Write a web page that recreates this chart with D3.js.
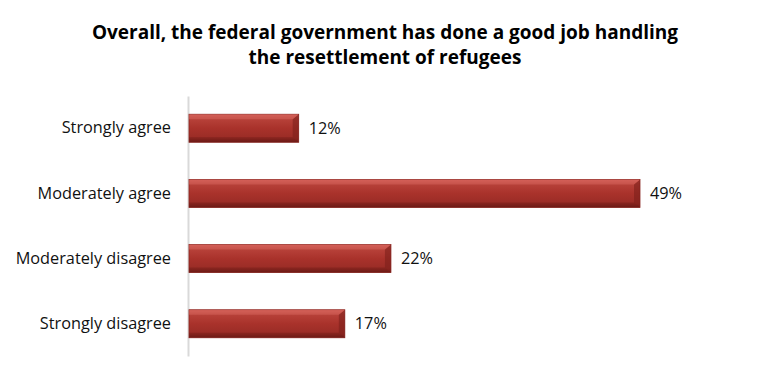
<!DOCTYPE html>
<html><head><meta charset="utf-8">
<script src="https://cdn.jsdelivr.net/npm/d3@7"></script>
<style>body{margin:0;background:#fff;} svg{display:block;}</style>
</head><body>
<script>
const categories = ["Strongly agree","Moderately agree","Moderately disagree","Strongly disagree"];
const values = [12, 49, 22, 17];
const valueLabels = ["12%","49%","22%","17%"];
const titleLines = ["Overall, the federal government has done a good job handling","the resettlement of refugees"];

const W = 768, H = 380;
const svg = d3.select("body").append("svg").attr("width", W).attr("height", H);
const font = "Open Sans, Lato, sans-serif";

const defs = svg.append("defs");
const g1 = defs.append("linearGradient").attr("id","barGrad").attr("x1",0).attr("y1",0).attr("x2",0).attr("y2",1);
g1.append("stop").attr("offset","0%").attr("stop-color","#cf5a52");
g1.append("stop").attr("offset","15%").attr("stop-color","#b8423a");
g1.append("stop").attr("offset","50%").attr("stop-color","#a9322b");
g1.append("stop").attr("offset","85%").attr("stop-color","#9a2c26");
g1.append("stop").attr("offset","100%").attr("stop-color","#6e1b17");

const x0 = 188, yTop = 96, yBot = 356;
const x = d3.scaleLinear().domain([0, 49]).range([x0, 640]);
const y = d3.scaleBand().domain(categories).range([yTop, yBot]).paddingInner(0.57).paddingOuter(0.28);

// title
svg.append("g").selectAll("text").data(titleLines).join("text")
  .attr("x", 385).attr("y", (d,i)=> 39 + i*25)
  .attr("text-anchor","middle").attr("font-family", font)
  .attr("font-weight","bold").attr("font-size", 19).attr("fill","#000")
  .text(d=>d);

// axis
const axis = d3.axisLeft(y).tickSize(0).tickPadding(17);
const ag = svg.append("g").attr("transform", `translate(${x0},0)`).call(axis);
ag.select(".domain").attr("stroke","#d9d9d9").attr("stroke-width",2);
ag.selectAll("text").attr("font-family", font).attr("font-size", 16.3).attr("fill","#111");

// bars
const bars = svg.append("g").selectAll("g").data(categories).join("g");
bars.append("rect")
  .attr("x", x0+1).attr("y", d=>y(d))
  .attr("width", (d,i)=> x(values[i]) - x0 - 1).attr("height", y.bandwidth())
  .attr("fill","url(#barGrad)").attr("stroke","#8a2621").attr("stroke-width",0.8);
// bevel right edge
bars.append("path")
  .attr("d", (d,i)=>{
    const r = x(values[i]), t = y(d), b = t + y.bandwidth();
    return `M${r},${t} L${r-6},${t+5} L${r-6},${b-5} L${r},${b} Z`;
  })
  .attr("fill","#7d201b").attr("opacity",0.6);
// bevel top highlight
bars.append("path")
  .attr("d", (d,i)=>{
    const r = x(values[i]), t = y(d);
    return `M${x0+1},${t} L${r},${t} L${r-6},${t+5} L${x0+1},${t+5} Z`;
  })
  .attr("fill","#d9675f").attr("opacity",0.5);
// bottom shade
bars.append("path")
  .attr("d", (d,i)=>{
    const r = x(values[i]), b = y(d) + y.bandwidth();
    return `M${x0+1},${b} L${r},${b} L${r-6},${b-5} L${x0+1},${b-5} Z`;
  })
  .attr("fill","#6a1915").attr("opacity",0.4);

// value labels
svg.append("g").selectAll("text").data(categories).join("text")
  .attr("x", (d,i)=> x(values[i]) + 10)
  .attr("y", d=> y(d) + y.bandwidth()/2)
  .attr("dy","0.35em").attr("font-family", font).attr("font-size", 16.3).attr("fill","#111")
  .text((d,i)=> valueLabels[i]);
</script>
</body></html>
